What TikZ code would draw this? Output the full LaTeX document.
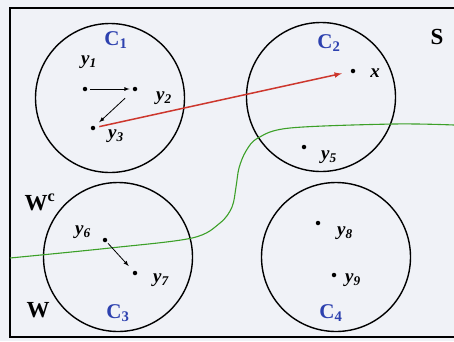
\documentclass[tikz,border=0pt]{standalone}
\usepackage{fontspec}
\setmainfont{Liberation Serif}
\usetikzlibrary{arrows,positioning}
\tikzset{>=latex}
\definecolor{paper}{RGB}{240,242,247}
\definecolor{clublue}{RGB}{45,65,175}
\definecolor{linkred}{RGB}{205,55,45}
\definecolor{borderline}{RGB}{60,160,40}
\tikzset{
  cluster/.style={draw, circle, line width=1.4pt, minimum size=149pt, inner sep=0pt},
  pt/.style={circle, fill, inner sep=0pt, minimum size=4.5pt},
  ylbl/.style={font=\fontsize{19}{19}\selectfont\bfseries\itshape, inner sep=0pt},
  clbl/.style={text=clublue, font=\fontsize{21}{21}\selectfont\bfseries, inner sep=0pt},
  setlbl/.style={font=\fontsize{23}{23}\selectfont\bfseries, inner sep=0pt},
}

\begin{document}
\begin{tikzpicture}[x=1pt, y=-1pt]
  \fill[paper] (0,0) rectangle (454,341);
  \useasboundingbox (0,0) rectangle (454,341);
  \draw[line width=1.2pt] (454,8) -- (10,8) -- (10,337) -- (454,337);
  % the four clusters
  \node[cluster] (c1) at (110,98) {};
  \node[cluster] (c2) at (321,97) {};
  \node[cluster] (c3) at (118,257) {};
  \node[cluster] (c4) at (336,257) {};
  \node[clbl] (c1lbl) at (116,40) {C\textsubscript{1}};
  \node[clbl] (c2lbl) at (329,43) {C\textsubscript{2}};
  \node[clbl] (c3lbl) at (118,313) {C\textsubscript{3}};
  \node[clbl] (c4lbl) at (331,313) {C\textsubscript{4}};
  % boundary between W and W^c
  \draw[borderline, line width=1.1pt] plot[smooth, tension=0.55] coordinates
    {(10,258) (110,248) (192,238) (220,223) (232,207) (236,187) (239,168)
     (246,151) (258,138) (290,128) (394,124) (454,125)};
  \node[setlbl] (s) at (437,37) {S};
  \node[setlbl] (wc) at (40,202) {W\textsuperscript{c}};
  \node[setlbl] (w) at (38,310) {W};
  % points
  \node[pt] (y1) at (85,89) {};
  \node[pt] (y2) at (135,89) {};
  \node[pt] (y3) at (93,128) {};
  \node[pt] (x) at (353,71) {};
  \node[pt] (y5) at (304,147) {};
  \node[pt] (y6) at (105,240) {};
  \node[pt] (y7) at (135,273) {};
  \node[pt] (y8) at (318,223) {};
  \node[pt] (y9) at (334,275) {};
  \node[ylbl] at (89,62) {y\textsubscript{1}};
  \node[ylbl] at (164,98) {y\textsubscript{2}};
  \node[ylbl] at (116,136) {y\textsubscript{3}};
  \node[ylbl] at (375,73) {x};
  \node[ylbl] at (329,157) {y\textsubscript{5}};
  \node[ylbl] at (83,232) {y\textsubscript{6}};
  \node[ylbl] at (161,280) {y\textsubscript{7}};
  \node[ylbl] at (345,233) {y\textsubscript{8}};
  \node[ylbl] at (353,280) {y\textsubscript{9}};
  % moves
  \draw[->, thick, shorten <=3pt, shorten >=3pt] (y1) -- (y2);
  \draw[->, thick, shorten <=11pt, shorten >=6pt] (y2) -- (y3);
  \draw[->, thick, shorten <=2pt, shorten >=7pt] (y6) -- (y7);
  \draw[->, linkred, line width=1.5pt, shorten <=4pt, shorten >=9pt] (y3) -- (x);
\end{tikzpicture}
\end{document}
